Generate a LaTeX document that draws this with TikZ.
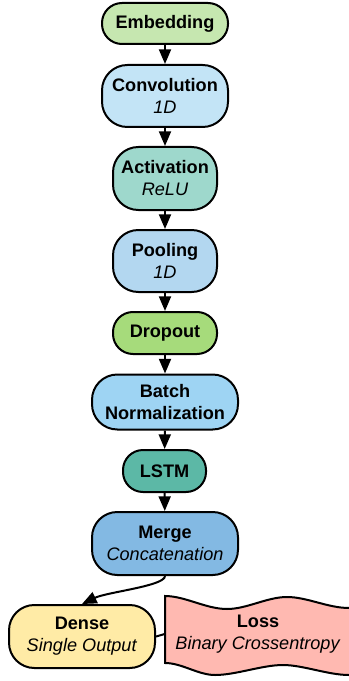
\documentclass[tikz,border=0pt]{standalone}
\usepackage{fontspec}
\setmainfont{Liberation Sans}
\usetikzlibrary{arrows.meta}

\definecolor{embedfill}{HTML}{C6E7B0}
\definecolor{convfill}{HTML}{C3E4F6}
\definecolor{actfill}{HTML}{9ED8CC}
\definecolor{poolfill}{HTML}{B3D7F0}
\definecolor{dropfill}{HTML}{A6DB7B}
\definecolor{normfill}{HTML}{9ED4F3}
\definecolor{lstmfill}{HTML}{5CB8A6}
\definecolor{mergefill}{HTML}{83B9E3}
\definecolor{densefill}{HTML}{FFEBA6}
\definecolor{lossfill}{HTML}{FFB9B1}

\tikzset{
  layer/.style={draw,line width=1.5pt,rounded corners=15pt,align=center,
    inner sep=0pt,font=\fontsize{13.6}{16.5}\selectfont},
  tall/.style={rounded corners=19pt},
  dims/.style 2 args={minimum width=#1,minimum height=#2},
  flow/.style={line width=1.5pt,-{Triangle[width=9pt,length=11pt]}}
}

\begin{document}
\begin{tikzpicture}[x=0.75pt,y=-0.75pt]
  \useasboundingbox (0,0) rectangle (349,681);
  \node[layer,fill=embedfill,dims={94.5pt}{30.75pt}] (emb) at (165,23.5) {\textbf{Embedding}};
  \node[layer,tall,fill=convfill,dims={94.5pt}{46.5pt}] (conv) at (165,96) {\textbf{Convolution}\\\textit{1D}};
  \node[layer,tall,fill=actfill,dims={78pt}{47.25pt}] (act) at (165,178.5) {\textbf{Activation}\\\textit{ReLU}};
  \node[layer,tall,fill=poolfill,dims={78pt}{46.5pt}] (pool) at (165,261) {\textbf{Pooling}\\\textit{1D}};
  \node[layer,fill=dropfill,dims={78pt}{31.5pt}] (drop) at (165,333) {\textbf{Dropout}};
  \node[layer,tall,fill=normfill,dims={109.5pt}{41.25pt}] (norm) at (165,402) {\textbf{Batch}\\\textbf{Normalization}};
  \node[layer,fill=lstmfill,dims={62.25pt}{31.5pt}] (lstm) at (164.5,471) {\textbf{LSTM}};
  \node[layer,tall,fill=mergefill,dims={109.5pt}{47.25pt}] (merge) at (165,543.5) {\textbf{Merge}\\\textit{Concatenation}};
  \node[layer,tall,fill=densefill,dims={109.5pt}{47.25pt}] (dense) at (82,636.5) {\textbf{Dense}\\\textit{Single Output}};

  \draw[line width=1.5pt,fill=lossfill] (165,596)
    .. controls (185,596) and (206,609) .. (227,609)
    .. controls (247,609) and (267,597) .. (287,597)
    .. controls (307,597) and (328,608) .. (349,608) -- (353,608)
    -- (353,675) -- (349,675)
    .. controls (328,675) and (303,665) .. (283,665)
    .. controls (262,665) and (236,675) .. (215,675)
    .. controls (198,675) and (182,663) .. (165,663) -- cycle;
  \node[align=center,font=\fontsize{13.6}{16.5}\selectfont,inner sep=0pt,dims={139.5pt}{50pt}]
    (loss) at (258,634) {\textbf{Loss}\\\textit{Binary Crossentropy}};

  \draw[flow] (emb) -- (conv);
  \draw[flow] (conv) -- (act);
  \draw[flow] (act) -- (pool);
  \draw[flow] (pool) -- (drop);
  \draw[flow] (drop) -- (norm);
  \draw[flow] (norm) -- (lstm);
  \draw[flow] (lstm) -- (merge);
  \draw[flow] (merge.south) .. controls +(0,10) and +(25,-12) .. (dense.north);
  \draw[line width=1.5pt] (dense.east) -- (loss.west);
\end{tikzpicture}
\end{document}
